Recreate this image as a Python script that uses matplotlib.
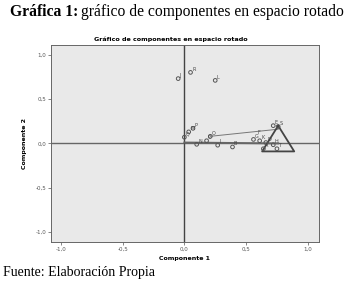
import numpy as np
import matplotlib.pyplot as plt

# component loadings (rotated space)
labels = ["J", "R", "L", "Q", "M", "P", "N", "C", "O", "I", "B",
          "G", "K", "D", "H", "E", "S", "A", "T"]
comp1 = [-0.05, 0.05, 0.25, 0.00, 0.035, 0.07, 0.10, 0.18, 0.21, 0.27, 0.39,
         0.56, 0.61, 0.66, 0.72, 0.72, 0.76, 0.64, 0.75]
comp2 = [0.73, 0.80, 0.71, 0.07, 0.13, 0.17, -0.01, 0.03, 0.08, -0.02, -0.04,
         0.045, 0.03, 0.01, -0.015, 0.20, 0.19, -0.06, -0.06]

# connecting lines drawn by the viewer
line_f_x = [0.21, 0.76]
line_f_y = [0.08, 0.16]
line_h_x = [0.0, 0.76]
line_h_y = [0.01, 0.0]
tri_x = [0.76, 0.63, 0.89, 0.76]
tri_y = [0.20, -0.09, -0.09, 0.20]

xticks = [-1.0, -0.5, 0.0, 0.5, 1.0]
yticks = [-1.0, -0.5, 0.0, 0.5, 1.0]

fig = plt.figure(figsize=(3.52, 2.84), dpi=100)
ax = fig.add_axes([0.145, 0.148, 0.761, 0.694])
ax.set_facecolor("#e9e9e9")

ax.axhline(0, color="#666666", lw=1.0, zorder=1)
ax.axvline(0, color="#444444", lw=1.0, zorder=1)

ax.plot(line_h_x, line_h_y, color="#666666", lw=1.4, zorder=2)
ax.plot(line_f_x, line_f_y, color="#777777", lw=0.7, zorder=2)
ax.plot(tri_x, tri_y, color="#444444", lw=1.3, zorder=3)

ax.scatter(comp1, comp2, s=7, facecolors="none", edgecolors="#555555",
           linewidths=0.7, zorder=4)
for lx, ly, lab in zip(comp1, comp2, labels):
    ax.text(lx + 0.012, ly + 0.02, lab, fontsize=3.5, color="#444444", zorder=5)
ax.text(0.59, 0.11, "F", fontsize=3.5, color="#444444")

ax.set_xlim(-1.08, 1.09)
ax.set_ylim(-1.11, 1.11)
ax.set_xticks(xticks)
ax.set_yticks(yticks)
ax.set_xticklabels([f"{t:.1f}".replace(".", ",") for t in xticks])
ax.set_yticklabels([f"{t:.1f}".replace(".", ",") for t in yticks])
ax.tick_params(labelsize=4, colors="#555555", length=2, width=0.5, pad=1.5)
for s in ax.spines.values():
    s.set_color("#666666")
    s.set_linewidth(0.7)

ax.set_xlabel("Componente 1", fontsize=4.5, fontweight="bold", labelpad=3)
ax.set_ylabel("Componente 2", fontsize=4.5, fontweight="bold", labelpad=6)
fig.text(0.486, 0.852, "Gráfico de componentes en espacio rotado",
         fontsize=4.6, fontweight="bold", ha="center", va="bottom")

# header: bold label followed by normal text, sized to span x=10..347 px
fs = 10.0
t1 = fig.text(10 / 352, 0.958, "Gráfica 1:", fontsize=fs, fontweight="bold",
              family="Liberation Serif", va="center")
t2 = fig.text(0.5, 0.958, "gráfico de componentes en espacio rotado",
              fontsize=fs, family="Liberation Serif", va="center")
fig.canvas.draw()
total = t1.get_window_extent().width + t2.get_window_extent().width + 3
fs = fs * 335 / total
t1.set_fontsize(fs)
t2.set_fontsize(fs)
fig.canvas.draw()
w1 = t1.get_window_extent().width
t2.set_x((10 + w1 + 3) / 352)
fig.text(0.008, 0.042, "Fuente: Elaboración Propia", fontsize=10,
         family="Liberation Serif", va="center")

fig.savefig("out.png", dpi=100)
